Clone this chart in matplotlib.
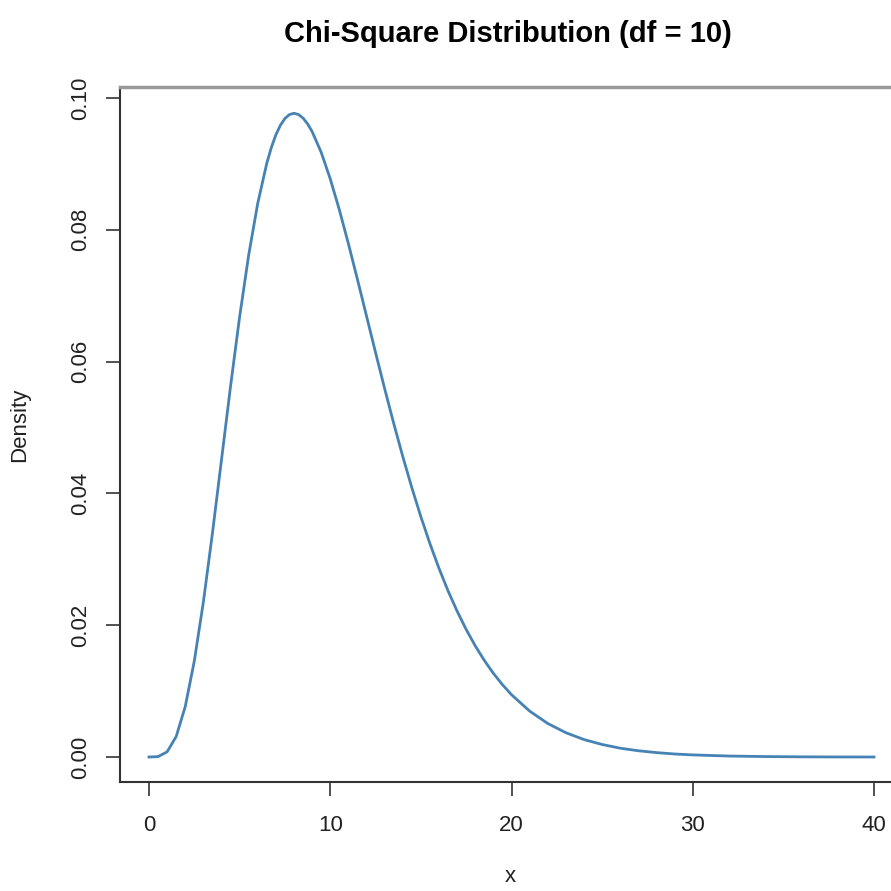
import matplotlib
matplotlib.use('Agg')
import matplotlib.pyplot as plt

# density values
x_vals = [0, 0.5, 1, 1.5, 2, 2.5, 3, 3.5, 4, 4.5, 5, 5.5, 6, 6.5, 6.75, 7,
          7.25, 7.5, 7.75, 8, 8.25, 8.5, 8.75, 9, 9.5, 10, 10.5, 11, 11.5,
          12, 12.5, 13, 13.5, 14, 14.5, 15, 15.5, 16, 16.5, 17, 17.5, 18,
          18.5, 19, 19.5, 20, 21, 22, 23, 24, 25, 26, 27, 28, 29, 30, 32,
          34, 36, 38, 40]
density = [0.0, 0.00006, 0.00079, 0.00311, 0.00766, 0.01457, 0.02353, 0.03396,
           0.04511, 0.05628, 0.06680, 0.07617, 0.08402, 0.09012, 0.09249, 0.09441,
           0.09587, 0.09689, 0.09749, 0.09768, 0.09749, 0.09695, 0.09608, 0.09490,
           0.09176, 0.08773, 0.08305, 0.07791, 0.07248, 0.06693, 0.06137, 0.05591,
           0.05064, 0.04561, 0.04088, 0.03646, 0.03237, 0.02863, 0.02521, 0.02213,
           0.01935, 0.01687, 0.01466, 0.01270, 0.01098, 0.00946, 0.00697, 0.00509,
           0.00369, 0.00265, 0.00190, 0.00134, 0.00095, 0.00067, 0.00046, 0.00032,
           0.00015, 0.00007, 0.00003, 0.00001, 0.000006]
x_ticks = [0, 10, 20, 30, 40]
y_ticks = [0.00, 0.02, 0.04, 0.06, 0.08, 0.10]
y_labels = ['0.00', '0.02', '0.04', '0.06', '0.08', '0.10']

plt.rcParams['font.family'] = ['Liberation Sans', 'DejaVu Sans']

fig = plt.figure(figsize=(8.91, 8.91), dpi=100)
ax = fig.add_axes([120 / 891, 109 / 891, 783 / 891, 695 / 891])

ax.plot(x_vals, density, color='#4682B4', linewidth=2.0,
        solid_joinstyle='round')

ax.set_xlim(-1.6, 41.6)
ax.set_ylim(-0.00379, 0.10167)
ax.set_xticks(x_ticks)
ax.set_yticks(y_ticks)
ax.set_yticklabels(y_labels, rotation=90, va='center')
ax.tick_params(direction='out', length=10, width=1.2, color='#333333',
               labelsize=16, labelcolor='#222222')
ax.tick_params(axis='x', pad=14)
ax.tick_params(axis='y', pad=11)

for side in ['left', 'bottom']:
    ax.spines[side].set_color('#333333')
    ax.spines[side].set_linewidth(1.5)
ax.spines['top'].set_color('#999999')
ax.spines['top'].set_linewidth(2.5)
ax.spines['right'].set_visible(False)

fig.text(508 / 891, 1 - 34 / 891, 'Chi-Square Distribution (df = 10)',
         ha='center', va='center', fontsize=21, fontweight='bold')
fig.text(510 / 891, 1 - 877 / 891, 'x', ha='center', va='center', fontsize=16,
         color='#222222')
fig.text(20 / 891, 1 - 425 / 891, 'Density', ha='center', va='center',
         rotation=90, fontsize=16, color='#222222')

fig.savefig('out.png', dpi=100)
